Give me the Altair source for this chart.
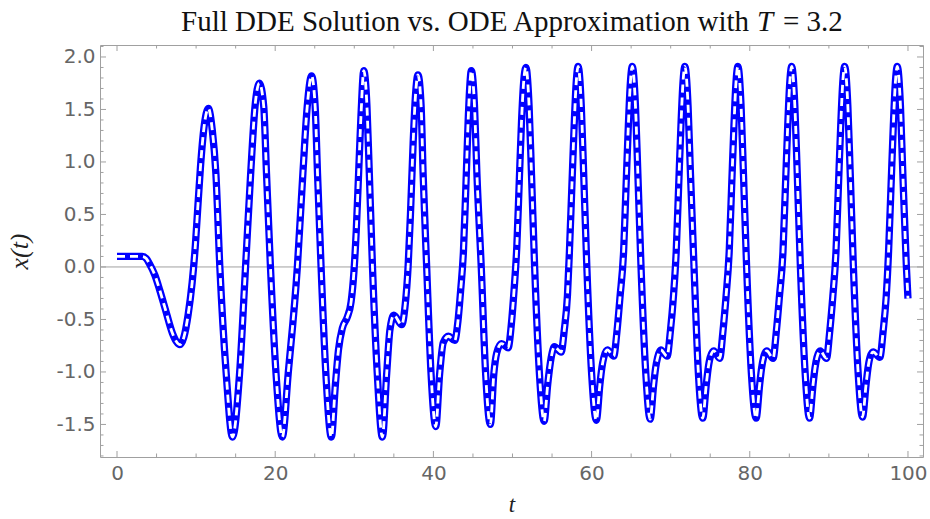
import altair as alt
import pandas as pd

# Sampled solution x(t) of the delay equation (history x = 0.1 up to t = T)
t_vals = [
    0.0, 1.6, 3.2, 3.7, 4.1, 4.8, 5.4, 6.1, 7.0, 7.5, 7.95, 8.45, 9.0, 9.5, 9.9,
    10.2, 10.55, 11.0, 11.55, 12.05, 12.5, 13.0, 13.8, 14.6, 15.5, 16.25, 16.9,
    17.45, 18.0, 18.55, 18.9, 19.4, 20.1, 20.9, 21.65, 22.8, 23.5, 24.05, 24.6,
    25.05, 25.35, 25.8, 26.4, 27.1, 27.6, 28.0, 28.5, 29.1, 29.6, 29.95, 30.25,
    30.55, 30.85, 31.2, 31.6, 31.9, 32.3, 32.9, 33.55, 34.1, 34.5, 35.0, 36.0,
    36.45, 36.8, 37.1, 37.45, 37.75, 38.05, 38.45, 38.7, 39.15, 39.7, 40.3, 40.8,
    41.25, 41.9, 42.7, 43.1, 43.45, 43.8, 44.1, 44.4, 44.6, 44.8, 45.2, 45.5,
    46.05, 46.6, 47.2, 47.65, 48.0, 48.6, 49.45, 49.85, 50.2, 50.55, 50.85, 51.15,
    51.4, 51.7, 52.1, 52.4, 52.8, 53.4, 54.0, 54.45, 54.7, 54.95, 55.3, 56.15,
    56.55, 56.95, 57.2, 57.5, 57.8, 58.05, 58.3, 58.7, 59.0, 59.4, 60.0, 60.6,
    61.05, 61.3, 61.55, 62.0, 62.8, 63.2, 63.6, 64.05, 64.35, 64.65, 64.9, 65.15,
    65.55, 65.85, 66.25, 66.85, 67.4, 67.85, 68.1, 68.35, 68.75, 69.55, 69.95,
    70.35, 70.7, 71.0, 71.3, 71.55, 71.8, 72.2, 72.5, 72.95, 73.5, 74.05, 74.5,
    74.75, 75.0, 75.45, 76.2, 76.6, 77.0, 77.4, 77.7, 78.0, 78.25, 78.5, 78.9,
    79.2, 79.6, 80.2, 80.8, 81.25, 81.5, 81.75, 82.15, 82.95, 83.35, 83.75, 84.2,
    84.5, 84.8, 85.05, 85.3, 85.7, 86.0, 86.4, 87.0, 87.55, 88.0, 88.25, 88.5,
    88.9, 89.7, 90.1, 90.5, 90.9, 91.2, 91.5, 91.75, 92.0, 92.4, 92.7, 93.1,
    93.7, 94.25, 94.7, 94.95, 95.2, 95.6, 96.45, 96.85, 97.25, 97.55, 97.85,
    98.15, 98.4, 98.65, 99.05, 99.35, 99.8, 100.0,
]
x_vals = [
    0.10, 0.10, 0.10, 0.08, 0.03, -0.08, -0.22, -0.40, -0.63, -0.71, -0.74, -0.67, -0.45, -0.15, 0.20,
    0.55, 0.95, 1.33, 1.51, 1.30, 0.89, 0.00, -1.01, -1.62, -1.01, 0.00, 0.89,
    1.53, 1.75, 1.53, 0.89, 0.00, -1.01, -1.62, -1.01, 0.00, 0.89, 1.53, 1.82,
    1.53, 0.89, 0.00, -1.01, -1.62, -1.13, -0.79, -0.58, -0.48, -0.33, -0.05, 0.35,
    0.90, 1.45, 1.87, 1.53, 0.89, 0.00, -1.01, -1.62, -1.01, -0.60, -0.46, -0.55,
    -0.35, 0.00, 0.50, 1.20, 1.65, 1.83, 1.53, 0.89, 0.00, -1.01, -1.52, -1.01,
    -0.72, -0.66, -0.70, -0.52, -0.22, 0.15, 0.75, 1.40, 1.72, 1.87, 1.53, 0.89,
    0.00, -1.01, -1.50, -1.01, -0.82, -0.73, -0.77, -0.55, -0.22, 0.20, 0.80, 1.40,
    1.75, 1.90, 1.53, 0.89, 0.00, -1.01, -1.47, -1.12, -0.96, -0.84, -0.76, -0.81,
    -0.60, -0.27, 0.15, 0.75, 1.35, 1.75, 1.91, 1.53, 0.89, 0.00, -1.01, -1.46,
    -1.12, -0.96, -0.86, -0.79, -0.85, -0.62, -0.28, 0.15, 0.75, 1.35, 1.75, 1.91,
    1.53, 0.89, 0.00, -1.01, -1.45, -1.12, -0.96, -0.86, -0.79, -0.85, -0.62,
    -0.28, 0.15, 0.75, 1.35, 1.75, 1.91, 1.53, 0.89, 0.00, -1.01, -1.44, -1.12,
    -0.96, -0.86, -0.80, -0.87, -0.62, -0.28, 0.15, 0.75, 1.35, 1.75, 1.91, 1.53,
    0.89, 0.00, -1.01, -1.44, -1.12, -0.96, -0.86, -0.80, -0.87, -0.62, -0.28, 0.15,
    0.75, 1.35, 1.75, 1.91, 1.53, 0.89, 0.00, -1.01, -1.44, -1.12, -0.96, -0.86,
    -0.80, -0.87, -0.62, -0.28, 0.15, 0.75, 1.35, 1.75, 1.91, 1.53, 0.89, 0.00,
    -1.01, -1.43, -1.12, -0.96, -0.86, -0.81, -0.86, -0.62, -0.28, 0.15, 0.75,
    1.35, 1.75, 1.91, 1.53, 0.89, 0.00, -0.30,
]

# Frame tick positions
x_major = [0, 20, 40, 60, 80, 100]
x_minor = [5, 10, 15, 25, 30, 35, 45, 50, 55, 65, 70, 75, 85, 90, 95]
y_major = [-1.5, -1.0, -0.5, 0.0, 0.5, 1.0, 1.5, 2.0]
y_minor = [-1.8, -1.7, -1.6, -1.4, -1.3, -1.2, -1.1, -0.9, -0.8, -0.7, -0.6,
           -0.4, -0.3, -0.2, -0.1, 0.1, 0.2, 0.3, 0.4, 0.6, 0.7, 0.8, 0.9,
           1.1, 1.2, 1.3, 1.4, 1.6, 1.7, 1.8, 1.9, 2.1]

W, H = 823, 412
FRAME = "#a0a0a0"
LABEL = "#666666"
SERIF = "Liberation Serif"
SANS = "DejaVu Sans"

xs = alt.Scale(domain=[-2.15, 101.9], nice=False, zero=False)
ys = alt.Scale(domain=[-1.81, 2.114], nice=False, zero=False)

sol = pd.DataFrame({"t": t_vals, "x": x_vals})

# The same axis objects are given to every layer so the shared axes merge cleanly
x_axis = alt.Axis(values=x_major, format="d", title="t", domain=False, ticks=False,
                  grid=False, labelFont=SANS, labelFontSize=20, labelColor=LABEL,
                  labelPadding=6, titleFont=SERIF, titleFontStyle="italic",
                  titleFontWeight="normal", titleFontSize=23, titleColor="#222222",
                  titlePadding=10)
y_axis = alt.Axis(values=y_major, title="x(t)", domain=False, ticks=False, grid=False,
                  labelExpr="replace(format(datum.value, '.1f'), '\u2212', '-')",
                  labelFont=SANS, labelFontSize=20, labelColor=LABEL, labelPadding=5,
                  titleFont=SERIF, titleFontStyle="italic", titleFontWeight="normal",
                  titleFontSize=26, titleColor="#222222", titlePadding=23)


def X(field):
    return alt.X(field, scale=xs, axis=x_axis)


def Y(field):
    return alt.Y(field, scale=ys, axis=y_axis)


zero_line = alt.Chart(pd.DataFrame({"z": [0.0]})).mark_rule(
    color=FRAME, strokeWidth=1
).encode(y=Y("z:Q"))

dde = alt.Chart(sol).mark_line(
    color="#0000ff", strokeWidth=7.3, interpolate="monotone",
    strokeCap="butt", strokeJoin="round"
).encode(x=X("t:Q"), y=Y("x:Q"))

ode = alt.Chart(sol).mark_line(
    color="#ffffff", strokeWidth=2.8, interpolate="monotone",
    strokeDash=[8, 5], strokeCap="butt"
).encode(x=X("t:Q"), y=Y("x:Q"))


def x_ticks(vals, length):
    base = alt.Chart(pd.DataFrame({"v": vals})).mark_rule(color=FRAME, strokeWidth=1)
    return [base.encode(x=X("v:Q"), y=alt.value(H), y2=alt.value(H - length)),
            base.encode(x=X("v:Q"), y=alt.value(0), y2=alt.value(length))]


def y_ticks(vals, length):
    base = alt.Chart(pd.DataFrame({"v": vals})).mark_rule(color=FRAME, strokeWidth=1)
    return [base.encode(y=Y("v:Q"), x=alt.value(0), x2=alt.value(length)),
            base.encode(y=Y("v:Q"), x=alt.value(W), x2=alt.value(W - length))]


ticks = (x_ticks(x_major, 6) + x_ticks(x_minor, 3.5)
         + y_ticks(y_major, 6) + y_ticks(y_minor, 3.5))

one = pd.DataFrame({"k": [0]})
TS = 29
title_main = alt.Chart(one).mark_text(
    text="Full DDE Solution vs. ODE Approximation with", font=SERIF, fontSize=TS,
    align="right", baseline="alphabetic", color="#111111"
).encode(x=alt.value(649), y=alt.value(-14))
title_sym = alt.Chart(one).mark_text(
    text="T", font=SERIF, fontSize=TS, fontStyle="italic",
    align="left", baseline="alphabetic", color="#111111"
).encode(x=alt.value(657), y=alt.value(-14))
title_val = alt.Chart(one).mark_text(
    text="= 3.2", font=SERIF, fontSize=TS,
    align="left", baseline="alphabetic", color="#111111"
).encode(x=alt.value(683), y=alt.value(-14))

chart = alt.layer(
    zero_line, *ticks, dde, ode, title_main, title_sym, title_val
).properties(
    width=W, height=H,
    autosize=alt.AutoSizeParams(type="none"),
    padding={"left": 100, "top": 45, "right": 7, "bottom": 62},
    background="white",
).configure_view(stroke=FRAME, strokeWidth=1)

chart.save("out.html", embed_options={"renderer": "svg", "actions": False})
